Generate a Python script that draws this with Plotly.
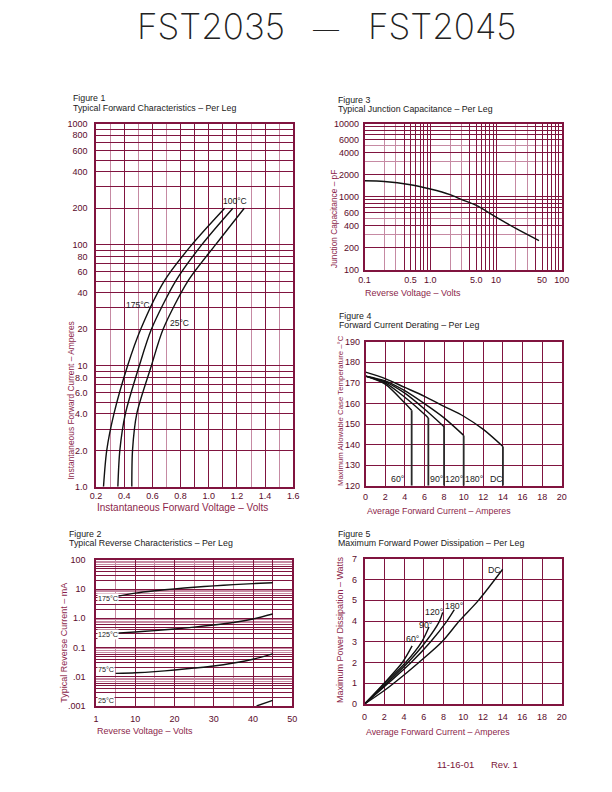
import plotly.graph_objects as go

# page body has an 8px default margin; the figure is sized to fit inside it
OFF = 8
W, H = 612 - 2 * OFF, 792 - 2 * OFF
DARK = "#80143f"
LIGHT = "#c68aa3"
TICKC = "#5a0b2b"
TITC = "#8c1f4b"
FONT = "Liberation Sans, Arial, sans-serif"

def px(x):
    return (x - OFF) / W

def py(y):
    return 1 - (y - OFF) / H

# ---------------- data ----------------
# Figure 1: forward characteristics (V vs A)
f1_current = [1, 2, 4, 10, 20, 50, 100, 200]
f1_v_175 = [0.253, 0.276, 0.327, 0.424, 0.517, 0.684, 0.88, 1.113]
f1_v_100 = [0.355, 0.369, 0.408, 0.507, 0.593, 0.765, 0.951, 1.171]
f1_v_25 = [0.454, 0.459, 0.489, 0.593, 0.676, 0.852, 1.049, 1.252]

# Figure 2: reverse characteristics (mA vs V)
f2_volts = [5, 10, 15, 20, 25, 30, 35, 40, 45]
f2_i_175 = [5.5, 7.3, 8.8, 10.2, 11.6, 12.9, 14.2, 15.4, 16.5]
f2_i_125 = [0.31, 0.34, 0.38, 0.43, 0.5, 0.59, 0.72, 0.95, 1.4]
f2_i_75 = [0.013, 0.0137, 0.015, 0.017, 0.0198, 0.0233, 0.0295, 0.0396, 0.0605]
f2_volts_25 = [40.9, 45]
f2_i_25 = [0.001, 0.00155]

# Figure 3: junction capacitance (pF vs V)
f3_volts = [0.1, 0.2, 0.5, 1, 2, 3, 5, 10, 20, 45]
f3_pf = [1645, 1611, 1453, 1270, 1064, 910, 756, 525, 366, 249]

# Figure 4: current derating (case temp vs A)
f4_i_dc = [0, 2, 4, 6, 8, 10, 12, 14]
f4_t_dc = [175.2, 172.1, 167.8, 163.5, 158.6, 153.8, 147.4, 139.1]
f4_i_180 = [0, 2, 4, 6, 8, 10]
f4_t_180 = [173.3, 171.0, 166.2, 159.9, 153.0, 144.5]
f4_i_120 = [0, 2, 4, 6, 8]
f4_t_120 = [173.3, 170.5, 165.0, 157.3, 148.7]
f4_i_90 = [0, 2, 4, 6, 6.4]
f4_t_90 = [173.3, 170.0, 163.0, 154.8, 153.0]
f4_i_60 = [0, 2, 4, 4.7]
f4_t_60 = [173.3, 169.4, 160.2, 156.7]
f4_floor = 120

# Figure 5: power dissipation (W vs A)
f5_i_dc = [0, 2, 4, 5.5, 7.85, 9.6, 11.55, 14]
f5_p_dc = [0, 0.65, 1.4, 2, 3, 4, 5, 6.5]
f5_i_180 = [0, 2.4, 4.72, 6.7, 8.35, 9.1]
f5_p_180 = [0, 1, 2, 3, 4, 4.55]
f5_i_120 = [0, 2.25, 4.4, 6.2, 7.6, 7.92]
f5_p_120 = [0, 1, 2, 3, 4, 4.42]
f5_i_90 = [0, 2.08, 4.16, 5.8, 6.53]
f5_p_90 = [0, 1, 2, 3, 3.71]
f5_i_60 = [0, 1.98, 3.83, 4.82]
f5_p_60 = [0, 1, 2, 2.8]

# tick labels / grid positions
f1_x_ticks = [0.2, 0.4, 0.6, 0.8, 0.9, 1.0, 1.1, 1.2, 1.4, 1.6]
f1_x_text = ["0.2", "0.4", "0.6", "0.8", "", "1.0", "", "1.2", "1.4", "1.6"]
f1_x_light = [0.3, 0.5, 0.7, 1.3, 1.5]
f1_y_ticks = [1, 2, 3, 4, 5, 6, 7, 8, 9, 10, 20, 30, 40, 50, 60, 70, 80, 90,
              100, 200, 300, 400, 500, 600, 700, 800, 900, 1000]
f1_y_text = ["1.0", "2.0", "", "4.0", "", "6.0", "", "8.0", "", "10", "20", "", "40", "",
             "60", "", "80", "", "100", "200", "", "400", "", "600", "", "800", "", "1000"]

f2_x_ticks = [0, 10, 20, 30, 40, 45, 50]
f2_x_text = ["1", "10", "20", "30", "40", "", "50"]
f2_x_light = [5, 15, 25, 35]
f2_y_ticks = []
f2_y_text = []
f2_y_light = []
f2_labels = {100: "100", 10: "10", 1: "1.0", 0.1: "0.1", 0.01: ".01", 0.001: ".001"}
for dec in [0.001, 0.01, 0.1, 1, 10]:
    for m in range(1, 10):
        v = round(dec * m, 6)
        if m >= 7:
            f2_y_light.append(v)
        else:
            f2_y_ticks.append(v)
            f2_y_text.append(f2_labels.get(v, ""))
f2_y_ticks.append(100)
f2_y_text.append("100")

f3_x_ticks, f3_x_text, f3_x_light = [], [], []
f3_x_labels = {0.1: "0.1", 0.5: "0.5", 1: "1.0", 5: "5.0", 10: "10", 50: "50", 100: "100"}
for dec in [0.1, 1, 10]:
    for m in range(1, 10):
        v = round(dec * m, 6)
        if m in (2, 3):
            f3_x_light.append(v)
        else:
            f3_x_ticks.append(v)
            f3_x_text.append(f3_x_labels.get(v, ""))
f3_x_ticks.append(100)
f3_x_text.append("100")

f3_y_ticks, f3_y_text, f3_y_light = [], [], []
f3_y_labels = {100: "100", 200: "200", 400: "400", 600: "600", 1000: "1000",
               2000: "2000", 4000: "4000", 6000: "6000", 10000: "10000"}
for dec in [100, 1000]:
    for m in range(1, 10):
        v = dec * m
        if m in (3, 5):
            f3_y_light.append(v)
        else:
            f3_y_ticks.append(v)
            f3_y_text.append(f3_y_labels.get(v, ""))
f3_y_ticks.append(10000)
f3_y_text.append("10000")

f45_x_ticks = list(range(0, 21, 2))
f45_x_text = [str(v) for v in f45_x_ticks]
f4_y_ticks = list(range(120, 191, 10))
f4_y_text = [str(v) for v in f4_y_ticks]
f5_y_ticks = list(range(0, 8))
f5_y_text = [str(v) for v in f5_y_ticks]

# ---------------- figure ----------------
fig = go.Figure()

def add_line(x, y, xa, ya, shape="spline", width=1.4, color="#111111"):
    line = dict(color=color, width=width, shape=shape)
    if shape == "spline":
        line["smoothing"] = 0.8
    fig.add_trace(go.Scatter(x=x, y=y, mode="lines", xaxis=xa, yaxis=ya,
                             line=line, showlegend=False, hoverinfo="skip"))

# Fig 1
for vv in (f1_v_175, f1_v_100, f1_v_25):
    add_line(vv, f1_current, "x", "y")
# Fig 2
add_line(f2_volts, f2_i_175, "x2", "y2")
add_line(f2_volts, f2_i_125, "x2", "y2")
add_line(f2_volts, f2_i_75, "x2", "y2")
add_line(f2_volts_25, f2_i_25, "x2", "y2", shape="linear")
# Fig 3
add_line(f3_volts, f3_pf, "x3", "y3")
# Fig 4
for ii, tt in ((f4_i_dc, f4_t_dc), (f4_i_180, f4_t_180), (f4_i_120, f4_t_120),
               (f4_i_90, f4_t_90), (f4_i_60, f4_t_60)):
    add_line(ii, tt, "x4", "y4")
    add_line([ii[-1], ii[-1]], [tt[-1], f4_floor], "x4", "y4", shape="linear",
             width=1.8, color="#2a2a2a")
# Fig 5
for ii, pp in ((f5_i_dc, f5_p_dc), (f5_i_180, f5_p_180), (f5_i_120, f5_p_120),
               (f5_i_90, f5_p_90), (f5_i_60, f5_p_60)):
    add_line(ii, pp, "x5", "y5")


def axis(domain, rng, tickvals, ticktext, light=None, typ="linear", anchor=None,
         standoff=4):
    d = dict(domain=domain, range=rng, type=typ, tickmode="array",
             tickvals=tickvals, ticktext=ticktext, showgrid=True,
             gridcolor=DARK, gridwidth=1, showline=True, mirror=True,
             linecolor=DARK, linewidth=1.6, zeroline=False, ticks="",
             tickfont=dict(family=FONT, size=9, color=TICKC),
             ticklabelstandoff=standoff, anchor=anchor, fixedrange=True)
    if light:
        d["minor"] = dict(tickmode="array", tickvals=light, showgrid=True,
                          gridcolor=LIGHT, gridwidth=1, ticks="")
    return d

# plot areas in reference pixels (left, right, top, bottom)
A1 = (92, 294, 120, 488)
A2 = (92, 293, 562, 710)
A3 = (367, 569, 120, 268)
A4 = (368, 569, 341, 487)
A5 = (367, 569, 561, 708)

def xd(a):
    return [px(a[0]), px(a[1])]

def yd(a):
    return [py(a[3]), py(a[2])]

fig.update_layout(
    xaxis=axis(xd(A1), [0.2, 1.6], f1_x_ticks, f1_x_text, f1_x_light, anchor="y", standoff=0),
    yaxis=axis(yd(A1), [0, 3], f1_y_ticks, f1_y_text, None, typ="log", anchor="x", standoff=5),
    xaxis2=axis(xd(A2), [0, 50], f2_x_ticks, f2_x_text, f2_x_light, anchor="y2", standoff=3),
    yaxis2=axis(yd(A2), [-3, 2], f2_y_ticks, f2_y_text, f2_y_light, typ="log", anchor="x2", standoff=7),
    xaxis3=axis(xd(A3), [-1, 2], f3_x_ticks, f3_x_text, f3_x_light, typ="log", anchor="y3", standoff=1),
    yaxis3=axis(yd(A3), [2, 4], f3_y_ticks, f3_y_text, f3_y_light, typ="log", anchor="x3", standoff=2),
    xaxis4=axis(xd(A4), [0, 20], f45_x_ticks, f45_x_text, None, anchor="y4", standoff=2),
    yaxis4=axis(yd(A4), [120, 190], f4_y_ticks, f4_y_text, None, anchor="x4", standoff=2),
    xaxis5=axis(xd(A5), [0, 20], f45_x_ticks, f45_x_text, None, anchor="y5", standoff=3),
    yaxis5=axis(yd(A5), [0, 7], f5_y_ticks, f5_y_text, None, anchor="x5", standoff=4),
)

ann = []

def text(x, y, s, size=9, color="#1a1a1a", xanchor="left", yanchor="middle",
         angle=0, family=FONT, bg=None, xref="paper", yref="paper", weight=None):
    f = dict(family=family, size=size, color=color)
    if weight:
        f["weight"] = weight
    a = dict(x=x, y=y, xref=xref, yref=yref, text=s, showarrow=False,
             xanchor=xanchor, yanchor=yanchor, textangle=angle, font=f,
             borderpad=0)
    if bg:
        a["bgcolor"] = bg
    ann.append(a)

def ptext(xp, yp, s, dy=-2, **kw):
    # dy compensates the font box centring so that yp is the visual centre
    text(px(xp), py(yp + dy), s, **kw)

# main title
TFONT = "Inter, DejaVu Sans, sans-serif"
ptext(210, 21.5, "FST2035", dy=0, size=35, color="#222222", xanchor="center", family=TFONT, weight=200)
ptext(327.5, 24.5, "—", dy=0, size=26, color="#222222", xanchor="center", family=TFONT, weight=200)
ptext(446.5, 21.5, "FST2045", dy=0, size=35, color="#222222", xanchor="center", family=TFONT, weight=200)

# figure headings
for (xx, y1, y2, n, t) in [
    (67, 96.5, 106.5, "Figure 1", "Typical Forward Characteristics – Per Leg"),
    (63, 537.5, 546.7, "Figure 2", "Typical Reverse Characteristics – Per Leg"),
    (339, 98.5, 107.5, "Figure 3", "Typical Junction Capacitance – Per Leg"),
    (340, 316.7, 326, "Figure 4", "Forward Current Derating – Per Leg"),
    (339, 537.5, 547, "Figure 5", "Maximum Forward Power Dissipation – Per Leg"),
]:
    ptext(xx, y1, n, size=8.8)
    ptext(xx, y2, t, size=8.8)

# x-axis titles
ptext(92, 509, "Instantaneous Forward Voltage – Volts", dy=0, size=10, color=TITC)
ptext(92, 734, "Reverse Voltage – Volts", dy=1, size=9, color=TITC)
ptext(366, 293, "Reverse Voltage – Volts", dy=-1, size=9, color=TITC)
ptext(368, 513, "Average Forward Current – Amperes", dy=0, size=8.8, color=TITC)
ptext(367, 735, "Average Forward Current – Amperes", dy=1, size=8.8, color=TITC)

# y-axis titles (rotated)
ptext(66, 482, "Instantaneous Forward Current – Amperes", dy=0, size=8.4, color=TITC,
      xanchor="center", yanchor="bottom", angle=-90)
ptext(59, 708, "Typical Reverse Current – mA", dy=0, size=9, color=TITC,
      xanchor="center", yanchor="bottom", angle=-90)
ptext(335, 267, "Junction Capacitance – pF", dy=0, size=8.3, color=TITC,
      xanchor="center", yanchor="bottom", angle=-90)
ptext(342.5, 488, "Maximum Allowable Case Temperature –°C", dy=0, size=7.8, color=TITC,
      xanchor="center", yanchor="bottom", angle=-90)
ptext(342.5, 708, "Maximum Power Dissipation – Watts", dy=0, size=9, color=TITC,
      xanchor="center", yanchor="bottom", angle=-90)

# curve labels fig 1 (data coordinates; log axis uses log10)
text(0.4945, 1.5, "175°C", size=8.5, xanchor="center", xref="x", yref="y")
text(0.7925, 1.353, "25°C", size=8.5, xanchor="center", xref="x", yref="y")
text(1.184, 2.36, "100°C", size=8.5, xanchor="center", xref="x", yref="y")

# curve labels fig 2
for yy, s in [(0.685, "175°C"), (-0.539, "125°C"), (-1.742, "75°C"), (-2.798, "25°C")]:
    text(0.2, yy, s, size=7.2, xanchor="left", xref="x2", yref="y2", bg="white")

# curve labels fig 4
for xx, s in [(3.3, "60°"), (7.28, "90°"), (9.0, "120°"), (11.1, "180°"), (13.3, "DC")]:
    text(xx, 123.5, s, size=8.8, xanchor="center", xref="x4", yref="y4")

# curve labels fig 5
for xx, yy, s in [(13.2, 6.47, "DC"), (9.03, 4.71, "180°"), (7.0, 4.42, "120°"),
                  (6.2, 3.8, "90°"), (4.83, 3.13, "60°")]:
    text(xx, yy, s, size=8.8, xanchor="center", xref="x5", yref="y5")

# footer
ptext(440, 771, "11-16-01", size=9.5, color="#7a1538")
ptext(495, 771, "Rev. 1", size=9.5, color="#7a1538")

fig.update_layout(annotations=ann, width=W, height=H, autosize=False,
                  margin=dict(l=0, r=0, t=0, b=0), paper_bgcolor="white",
                  plot_bgcolor="white", showlegend=False)

fig.write_html("out.html")
